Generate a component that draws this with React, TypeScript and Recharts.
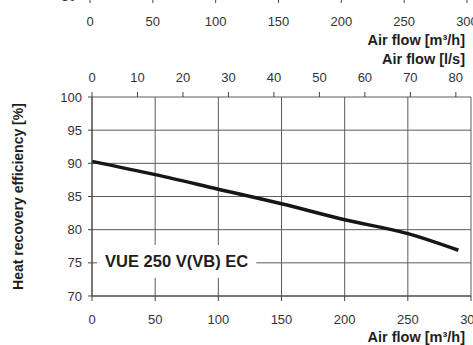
import React from "react";
import {
  ComposedChart,
  LineChart,
  Line,
  XAxis,
  YAxis,
  CartesianGrid,
  ReferenceArea,
} from "recharts";

// curve: air flow [m³/h] -> heat recovery efficiency [%]
const airFlow = [0, 50, 100, 150, 200, 250, 290];
const efficiency = [90.3, 88.3, 86.1, 83.9, 81.5, 79.4, 76.9];

const flowTicks = [0, 50, 100, 150, 200, 250, 300];
const litreTicks = [0, 10, 20, 30, 40, 50, 60, 70, 80];
const effTicks = [70, 75, 80, 85, 90, 95, 100];
// only the lowest tick of the chart above is still in the crop
const upperEffTicks = [80];

const modelName = "VUE 250 V(VB) EC";
// white box behind the model name, in axis units
const nameBoxFlow = [4, 130];
const nameBoxEff = [72.75, 77.7];

const FLOW_MAX = 300;
const M3H_PER_LS = 3.6;

const rows = airFlow.map((m3h, i) => ({
  m3h,
  ls: m3h / M3H_PER_LS,
  eff: efficiency[i],
}));

const FONT = '"Liberation Sans", Arial, sans-serif';
const tickFont = { fontFamily: FONT, fontSize: 13, fill: "#333" };
const titleFont = {
  fontFamily: FONT,
  fontSize: 14.5,
  fontWeight: 700,
  fill: "#1e1e1e",
};

export default function App() {
  return (
    <div style={{ position: "absolute", left: 0, top: 0, width: 473, height: 345, background: "#fff" }}>
      {/* bottom edge of the chart above, cut by the crop */}
      <div style={{ position: "absolute", left: 0, top: -51 }}>
        <LineChart
          width={473}
          height={80}
          data={rows}
          margin={{ top: 10, right: 6, bottom: 0, left: 30 }}
        >
          <XAxis
            dataKey="m3h"
            type="number"
            domain={[0, FLOW_MAX]}
            ticks={flowTicks}
            interval={0}
            height={30}
            tickSize={4}
            tickMargin={14}
            tick={tickFont}
            stroke="#444"
          />
          <YAxis
            type="number"
            domain={[80, 100]}
            allowDataOverflow
            ticks={upperEffTicks}
            interval={0}
            width={60}
            tickSize={4}
            tickMargin={10}
            tick={{ ...tickFont, dy: -3 }}
            stroke="#444"
          />
          {/* curves of the upper chart lie outside the crop */}
          <Line
            dataKey="eff"
            stroke="none"
            dot={false}
            activeDot={false}
            isAnimationActive={false}
          />
        </LineChart>
      </div>

      <div style={{ position: "absolute", left: 0, top: 0 }}>
        <ComposedChart
          width={473}
          height={345}
          data={rows}
          margin={{ top: 67, right: 2, bottom: 19, left: 32 }}
        >
          <CartesianGrid xAxisId="m3h" stroke="#5c5c5c" strokeWidth={1} />
          <XAxis
            xAxisId="ls"
            orientation="top"
            dataKey="ls"
            type="number"
            domain={[0, FLOW_MAX / M3H_PER_LS]}
            allowDataOverflow
            ticks={litreTicks}
            interval={0}
            height={30}
            tickSize={5}
            tickMargin={10}
            axisLine={false}
            tick={tickFont}
            stroke="#444"
          />
          <XAxis
            xAxisId="m3h"
            dataKey="m3h"
            type="number"
            domain={[0, FLOW_MAX]}
            ticks={flowTicks}
            interval={0}
            height={30}
            tickSize={5}
            tickMargin={14}
            tick={tickFont}
            stroke="#444"
          />
          <YAxis
            type="number"
            domain={[70, 100]}
            ticks={effTicks}
            interval={0}
            width={60}
            tickSize={4}
            tickMargin={6}
            tick={tickFont}
            stroke="#444"
          />
          <ReferenceArea
            xAxisId="m3h"
            x1={nameBoxFlow[0]}
            x2={nameBoxFlow[1]}
            y1={nameBoxEff[0]}
            y2={nameBoxEff[1]}
            fill="#fff"
            fillOpacity={1}
            stroke="none"
            label={{
              value: modelName,
              position: "center",
              fontFamily: FONT,
              fontSize: 16.5,
              fontWeight: 700,
              fill: "#1e1e1e",
            }}
          />
          <Line
            xAxisId="m3h"
            type="monotone"
            dataKey="eff"
            stroke="#161616"
            strokeWidth={3.5}
            dot={false}
            activeDot={false}
            isAnimationActive={false}
          />

          {/* axis titles */}
          <text x={465} y={44.5} textAnchor="end" {...titleFont}>
            Air flow [m³/h]
          </text>
          <text x={465} y={64} textAnchor="end" {...titleFont}>
            Air flow [l/s]
          </text>
          <text x={465} y={341.5} textAnchor="end" {...titleFont}>
            Air flow [m³/h]
          </text>
          <text
            transform="rotate(-90)"
            x={-196.5}
            y={23}
            textAnchor="middle"
            {...titleFont}
            fontSize={14}
          >
            Heat recovery efficiency [%]
          </text>
        </ComposedChart>
      </div>
    </div>
  );
}
